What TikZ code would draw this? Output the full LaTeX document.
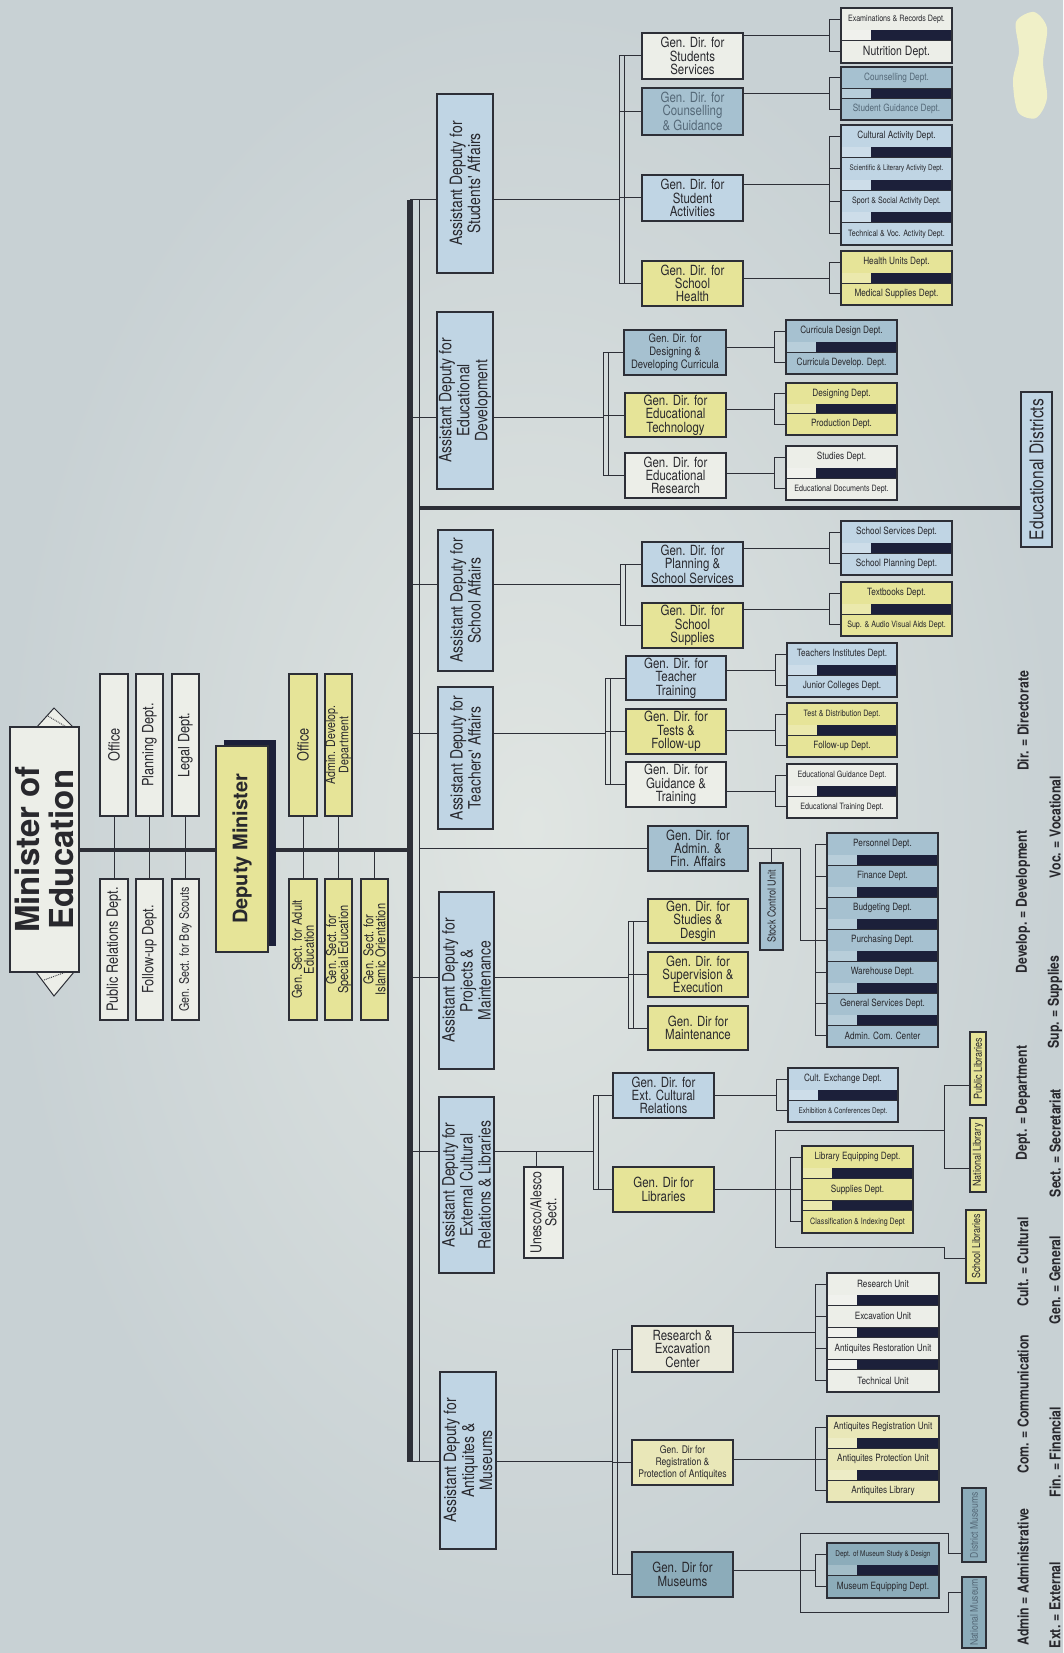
\documentclass[tikz,border=0pt]{standalone}
\usepackage{fontspec}
\setmainfont{TeX Gyre Heros}
\newfontfamily\cn[FakeStretch=0.82]{TeX Gyre Heros}
\usetikzlibrary{calc}
\definecolor{bgin}{RGB}{224,229,226}
\definecolor{bgout}{RGB}{200,209,212}
\definecolor{linec}{RGB}{45,47,55}
\definecolor{txt}{RGB}{40,40,45}
\definecolor{fade}{RGB}{85,105,120}
\definecolor{wbox}{RGB}{236,238,232}
\definecolor{lblue}{RGB}{192,213,228}
\definecolor{bgrey}{RGB}{166,193,208}
\definecolor{mblue}{RGB}{140,172,186}
\definecolor{yel}{RGB}{230,228,152}
\definecolor{lyel}{RGB}{233,231,184}
\definecolor{cream}{RGB}{234,234,218}
\definecolor{navy}{RGB}{28,32,58}
\definecolor{blob}{RGB}{240,240,200}
\newcommand\fz[2]{\fontsize{#1}{#2}\selectfont}
\newcommand\dsm{\fz{8.7}{9}}
\newcommand\dtn{\fz{7.8}{9}}
\newcommand\dlg{\fz{12.8}{13}}
\pgfdeclarelayer{bglayer}
\pgfdeclarelayer{linelayer}
\pgfsetlayers{bglayer,linelayer,main}
\tikzset{
  ln/.style={draw=linec, line width=1pt},
  thk/.style={draw=linec, line width=4pt},
  bx/.style={draw=linec, line width=1.1pt, rectangle, inner sep=0pt, align=center, text=txt},
  gdir/.style={bx, font=\cn\fz{14}{13.3}},
  adep/.style={bx, fill=lblue, font=\cn\fz{17}{18}},
  staff/.style={bx, font=\cn\fz{15.5}{16}},
  dcell/.style={draw=linec, line width=0.6pt, rectangle, inner sep=0pt, align=center, text=txt, font=\cn\fz{10}{11}},
  legend/.style={rotate=90, inner sep=0pt, text=txt, font=\cn\bfseries\fz{15}{16}},
}
\newcommand\Bx[7][]{\node[#1,minimum width={(#4)-(#2)},minimum height={(#5)-(#3)}] (#6) at ({((#2)+(#4))/2},{((#3)+(#5))/2}) {#7};}
\newcommand\Rx[7][]{\node[rotate=90,#1,minimum width={(#5)-(#3)},minimum height={(#4)-(#2)}] (#6) at ({((#2)+(#4))/2},{((#3)+(#5))/2}) {#7};}
\newcommand\Dept[8]{%
  \pgfmathsetmacro\dch{((#5)-(#3))/((#7)+((#7)-1)*0.45)}%
  \pgfmathsetmacro\dbh{0.45*\dch}%
  \foreach \dtx [count=\di] in {#8} {%
    \pgfmathsetmacro\dya{(#3)+(\di-1)*(\dch+\dbh)}%
    \node[dcell, fill=#6, minimum width={(#4)-(#2)}, minimum height=\dch] (#1-\di) at ({((#2)+(#4))/2},{\dya+\dch/2}) {\dtx};
    \draw[ln] ({(#2)-12},{\dya+\dch/2}) -- (#1-\di.west);
    \ifnum\di<#7\relax
      \fill[#6!80!white] (#2,{\dya+\dch}) rectangle ({(#2)+30},{\dya+\dch+\dbh});
      \fill[navy] ({(#2)+30},{\dya+\dch}) rectangle (#4,{\dya+\dch+\dbh});
    \fi
  }%
  \draw[linec, line width=1.2pt] (#2,#3) rectangle (#4,#5);
  \draw[ln] ({(#2)-12},{(#3)+\dch/2}) -- ({(#2)-12},{(#5)-\dch/2});
  \coordinate (#1-br) at ({(#2)-12},{((#3)+(#5))/2});
}
\newcommand\GBr[4]{%
  \path (#1,0) coordinate (gbx) ({(#1)+5},0) coordinate (gby);
  \draw[ln] (#2.west -| gbx) -- (#3.west -| gbx);
  \draw[ln] (#2.west -| gby) -- (#3.west -| gby);
  \foreach \g in {#4} {\draw[ln] (\g.west -| gbx) -- (\g.west);}
}
\begin{document}
\begin{tikzpicture}[x=1pt,y=-1pt]
\begin{pgfonlayer}{bglayer}
\shade[inner color=bgin, outer color=bgout] (0,0) rectangle (1063,1653);
\fill[blob] plot[smooth cycle] coordinates {(1016,22) (1034,12) (1047,28) (1043,62) (1047,98) (1036,118) (1018,112) (1013,80) (1019,52)};
\end{pgfonlayer}
\useasboundingbox (0,0) rectangle (1063,1653);

% ---------- Minister ----------
\filldraw[ln, fill=wbox] (36,728) -- (54,708) -- (74,728) -- cycle;
\draw[linec, densely dotted, line width=0.9pt] (48,716) -- (68,728);
\filldraw[ln, fill=wbox] (36,972) -- (54,996) -- (74,972) -- cycle;
\draw[linec, densely dotted, line width=0.9pt] (44,980) -- (66,972);
\Rx[bx, fill=wbox, font=\bfseries\fz{33}{34}]{10}{727}{79}{972}{min}{Minister of\\Education}

% staff of minister
\Rx[staff, fill=wbox]{100}{674}{128}{816}{s1}{Office}
\Rx[staff, fill=wbox]{136}{674}{163}{816}{s2}{Planning Dept.}
\Rx[staff, fill=wbox]{172}{674}{199}{816}{s3}{Legal Dept.}
\Rx[staff, fill=wbox]{100}{879}{128}{1020}{s4}{Public Relations Dept.}
\Rx[staff, fill=wbox]{136}{879}{163}{1020}{s5}{Follow-up Dept.}
\Rx[staff, fill=wbox, font=\cn\fz{13}{14}]{172}{879}{199}{1020}{s6}{Gen. Sect. for Boy Scouts}

% deputy minister
\fill[navy] (224,740) rectangle (276,946);
\Rx[bx, fill=yel, font=\bfseries\fz{20}{22}]{216}{746}{268}{952}{dm}{Deputy Minister}
\Rx[staff, fill=yel]{289}{674}{317}{816}{ds1}{Office}
\Rx[staff, fill=yel, font=\cn\fz{13}{11.5}]{325}{674}{352}{816}{ds2}{Admin. Develop.\\Department}
\Rx[staff, fill=yel, font=\cn\fz{13.5}{12}]{289}{879}{317}{1020}{ds3}{Gen. Sect. for Adult\\Education}
\Rx[staff, fill=yel, font=\cn\fz{13.5}{12}]{325}{879}{352}{1020}{ds4}{Gen. Sect. for\\Special Education}
\Rx[staff, fill=yel, font=\cn\fz{13.5}{12}]{361}{879}{388}{1020}{ds5}{Gen. Sect. for\\Islamic Orientation}

% ---------- Assistant deputies ----------
\Rx[adep]{437}{94}{493}{273}{ad1}{Assistant Deputy for\\Students' Affairs}
\Rx[adep]{437}{312}{493}{489}{ad2}{Assistant Deputy for\\Educational\\Development}
\Rx[adep]{438}{530}{493}{671}{ad3}{Assistant Deputy for\\School Affairs}
\Rx[adep]{438}{687}{493}{829}{ad4}{Assistant Deputy for\\Teachers' Affairs}
\Rx[adep]{439}{892}{494}{1069}{ad5}{Assistant Deputy for\\Projects \&\\Maintenance}
\Rx[adep]{439}{1097}{494}{1273}{ad6}{Assistant Deputy for\\External Cultural\\Relations \& Libraries}
\Rx[adep]{440}{1372}{496}{1549}{ad7}{Assistant Deputy for\\Antiquites \&\\Museums}

% ---------- General directorates ----------
\Bx[gdir, fill=wbox]{642}{33}{743}{79}{gA1}{Gen. Dir. for\\Students\\Services}
\Bx[gdir, fill=bgrey, text=fade]{642}{88}{743}{135}{gA2}{Gen. Dir. for\\Counselling\\\& Guidance}
\Bx[gdir, fill=lblue]{642}{175}{743}{221}{gA3}{Gen. Dir. for\\Student\\Activities}
\Bx[gdir, fill=yel]{642}{261}{743}{306}{gA4}{Gen. Dir. for\\School\\Health}
\Bx[gdir, fill=bgrey, font=\cn\fz{11.6}{13.3}]{624}{330}{726}{375}{gB1}{Gen. Dir. for\\Designing \&\\Developing Curricula}
\Bx[gdir, fill=yel]{625}{393}{726}{437}{gB2}{Gen. Dir. for\\Educational\\Technology}
\Bx[gdir, fill=wbox]{625}{453}{726}{498}{gB3}{Gen. Dir. for\\Educational\\Research}
\Bx[gdir, fill=lblue]{642}{542}{743}{586}{gC1}{Gen. Dir. for\\Planning \&\\School Services}
\Bx[gdir, fill=yel]{642}{603}{743}{648}{gC2}{Gen. Dir. for\\School\\Supplies}
\Bx[gdir, fill=lblue]{626}{656}{726}{700}{gD1}{Gen. Dir. for\\Teacher\\Training}
\Bx[gdir, fill=yel]{626}{709}{726}{754}{gD2}{Gen. Dir. for\\Tests \&\\Follow-up}
\Bx[gdir, fill=wbox]{626}{762}{726}{807}{gD3}{Gen. Dir. for\\Guidance \&\\Training}
\Bx[gdir, fill=bgrey]{648}{826}{748}{871}{gAF}{Gen. Dir. for\\Admin. \&\\Fin. Affairs}
\Bx[gdir, fill=yel]{648}{899}{748}{943}{gE1}{Gen. Dir. for\\Studies \&\\Desgin}
\Bx[gdir, fill=yel]{648}{952}{748}{997}{gE2}{Gen. Dir. for\\Supervision \&\\Execution}
\Bx[gdir, fill=yel]{648}{1006}{748}{1050}{gE3}{Gen. Dir for\\Maintenance}
\Bx[gdir, fill=lblue]{613}{1073}{714}{1118}{gF1}{Gen. Dir. for\\Ext. Cultural\\Relations}
\Bx[gdir, fill=yel]{613}{1167}{714}{1212}{gF2}{Gen. Dir for\\Libraries}
\Bx[gdir, fill=cream]{632}{1326}{733}{1372}{gG1}{Research \&\\Excavation\\Center}
\Bx[gdir, fill=lyel, font=\cn\fz{10.5}{12}]{632}{1440}{733}{1485}{gG2}{Gen. Dir for\\Registration \&\\Protection of Antiquites}
\Bx[gdir, fill=mblue]{632}{1552}{733}{1597}{gG3}{Gen. Dir for\\Museums}

% ---------- Departments ----------
\Dept{dA1}{841}{8}{952}{63}{wbox}{2}{{\dsm Examinations \& Records Dept.},{\dlg Nutrition Dept.}}
\Dept{dA2}{841}{67}{952}{120}{bgrey}{2}{{\color{fade}Counselling Dept.},{\color{fade}Student Guidance Dept.}}
\Dept{dA3}{841}{125}{952}{245}{lblue}{4}{Cultural Activity Dept.,{\dtn Scientific \& Literary Activity Dept.},{\dsm Sport \& Social Activity Dept.},{\dsm Technical \& Voc. Activity Dept.}}
\Dept{dA4}{841}{251}{952}{305}{yel}{2}{Health Units Dept.,Medical Supplies Dept.}
\Dept{dB1}{786}{320}{897}{374}{bgrey}{2}{Curricula Design Dept.,Curricula Develop. Dept.}
\Dept{dB2}{786}{383}{897}{435}{yel}{2}{Designing Dept.,Production Dept.}
\Dept{dB3}{786}{446}{897}{500}{wbox}{2}{Studies Dept.,{\dsm Educational Documents Dept.}}
\Dept{dC1}{841}{521}{952}{575}{lblue}{2}{School Services Dept.,School Planning Dept.}
\Dept{dC2}{841}{582}{952}{636}{yel}{2}{Textbooks Dept.,{\dsm Sup. \& Audio Visual Aids Dept.}}
\Dept{dD1}{787}{643}{897}{697}{lblue}{2}{Teachers Institutes Dept.,Junior Colleges Dept.}
\Dept{dD2}{787}{703}{897}{757}{yel}{2}{{\dsm Test \& Distribution Dept.},Follow-up Dept.}
\Dept{dD3}{787}{764}{897}{818}{wbox}{2}{{\dsm Educational Guidance Dept.},{\dsm Educational Training Dept.}}
\Dept{dAF}{827}{833}{938}{1047}{bgrey}{7}{Personnel Dept.,Finance Dept.,Budgeting Dept.,Purchasing Dept.,Warehouse Dept.,General Services Dept.,Admin. Com. Center}
\Dept{dF1}{788}{1068}{898}{1122}{lblue}{2}{Cult. Exchange Dept.,{\dtn Exhibition \& Conferences Dept.}}
\Dept{dF2}{802}{1146}{913}{1233}{yel}{3}{Library Equipping Dept.,Supplies Dept.,{\dsm Classification \& Indexing Dept}}
\Dept{dG1}{827}{1273}{939}{1392}{wbox}{4}{Research Unit,Excavation Unit,Antiquites Restoration Unit,Technical Unit}
\Dept{dG2}{827}{1416}{939}{1502}{lyel}{3}{Antiquites Registration Unit,Antiquites Protection Unit,Antiquites Library}
\Dept{dG3}{827}{1543}{939}{1598}{mblue}{2}{{\dtn Dept. of Museum Study \& Design},Museum Equipping Dept.}

% ---------- Other units ----------
\Rx[bx, fill=bgrey, font=\cn\fz{11}{12}]{760}{863}{783}{950}{sc}{Stock Control Unit}
\Rx[bx, fill=wbox, font=\cn\fz{15}{15}]{524}{1167}{563}{1258}{un}{Unesco/Alesco\\Sect.}
\Rx[bx, fill=yel, font=\cn\fz{11}{12}]{970}{1032}{986}{1105}{pl}{Public Libraries}
\Rx[bx, fill=yel, font=\cn\fz{11}{12}]{970}{1118}{986}{1192}{nl}{National Library}
\Rx[bx, fill=yel, font=\cn\fz{11}{12}]{966}{1210}{986}{1283}{sl}{School Libraries}
\Rx[bx, fill=mblue, text=fade, font=\cn\fz{10.5}{12}]{962}{1488}{986}{1562}{dmu}{District Museums}
\Rx[bx, fill=mblue, text=fade, font=\cn\fz{10.5}{12}]{962}{1577}{986}{1648}{nmu}{National Museum}
\Rx[bx, fill=lblue, font=\cn\fz{19}{20}]{1021}{392}{1052}{547}{edd}{Educational Districts}

% ---------- Legend ----------
\node[legend] (lg1) at (1023,721) {Dir. = Directorate};
\node[legend] (lg2) at (1023,902) {Develop. = Development};
\node[legend] (lg3) at (1023,1103) {Dept. = Department};
\node[legend] (lg4) at (1023,1262) {Cult. = Cultural};
\node[legend] (lg5) at (1023,1404) {Com. = Communication};
\node[legend] (lg6) at (1023,1577) {Admin = Administrative};
\node[legend] (lg7) at (1055,827) {Voc. = Vocational};
\node[legend] (lg8) at (1055,1002) {Sup. = Supplies};
\node[legend] (lg9) at (1055,1143) {Sect. = Secretariat};
\node[legend] (lg10) at (1055,1280) {Gen. = General};
\node[legend] (lg11) at (1055,1452) {Fin. = Financial};
\node[legend] (lg12) at (1055,1605) {Ext. = External};

% ---------- Connectors ----------
\begin{pgfonlayer}{linelayer}
\coordinate (bus) at (410,200);
\coordinate (busb) at (410,1462);
\coordinate (tbus) at (419,200);
\coordinate (tbusb) at (419,1462);
\draw[thk] (min.south) -- (min.south -| bus);
\draw[linec, line width=6pt] (bus) -- (busb);
\draw[ln] (tbus) -- (tbusb);
\draw[ln] (gAF.west -| tbus) -- (gAF.west);
\draw[ln] (s1.west) -- (s4.east);
\draw[ln] (s2.west) -- (s5.east);
\draw[ln] (s3.west) -- (s6.east);
\draw[ln] (ds1.west) -- (ds3.east);
\draw[ln] (ds2.west) -- (ds4.east);
\draw[ln] (ds5.east) -- (ds5.east |- dm.center);
\coordinate (edl) at (420,508);
\draw[thk] (edl) -- (edl -| edd.north);
\coordinate (k1) at (619,200);
\coordinate (k2) at (603,417);
\coordinate (k3) at (620,584);
\coordinate (k4) at (605,733);
\coordinate (k5) at (628,977);
\coordinate (k6) at (593,1151);
\coordinate (k7) at (612,1461);
\foreach \a in {1,...,7} {
  \draw[ln] (bus |- k\a) -- (ad\a.north |- k\a);
  \draw[ln] (ad\a.south |- k\a) -- (k\a);
}
\GBr{619}{gA1}{gA4}{gA1,gA2,gA3,gA4}
\GBr{603}{gB1}{gB3}{gB1,gB2,gB3}
\GBr{620}{gC1}{gC2}{gC1,gC2}
\GBr{605}{gD1}{gD3}{gD1,gD2,gD3}
\GBr{628}{gE1}{gE3}{gE1,gE2,gE3}
\GBr{593}{gF1}{gF2}{gF1,gF2}
\GBr{612}{gG1}{gG3}{gG1,gG2,gG3}
\coordinate (unk) at (536,1151);
\draw[ln] (unk) -- (unk |- un.east);
\foreach \gg/\dd in {gA1/dA1,gA2/dA2,gA3/dA3,gA4/dA4,gB1/dB1,gB2/dB2,gB3/dB3,gC1/dC1,gC2/dC2,gD1/dD1,gD2/dD2,gD3/dD3,gF1/dF1,gF2/dF2,gG1/dG1,gG2/dG2,gG3/dG3} {
  \draw[ln] (\dd-br -| \gg.east) -- (\dd-br);
}
\coordinate (afk) at (800,940);
\draw[ln] (gAF.east) -| (afk) -- (dAF-br);
\draw[ln] (sc.east) -- (sc.east |- gAF.east);
\coordinate (laP) at (944,1085);
\coordinate (laN) at (944,1168);
\coordinate (laT) at (944,1130);
\coordinate (laTL) at (775,1130);
\coordinate (laBL) at (775,1247);
\coordinate (laB) at (944,1247);
\coordinate (laS) at (944,1258);
\draw[ln] (pl.north |- laP) -- (laP) -- (laN) -- (nl.north |- laN);
\draw[ln] (laT) -- (laTL) -- (laBL) -- (laB) -- (laS) -- (sl.north |- laS);
\coordinate (maT) at (800,1533);
\coordinate (maTR) at (948,1533);
\coordinate (maD) at (948,1553);
\coordinate (maB) at (800,1612);
\coordinate (maBR) at (948,1612);
\coordinate (maN) at (948,1592);
\draw[ln] (dmu.north |- maD) -- (maD) -- (maTR) -- (maT) -- (maB) -- (maBR) -- (maN) -- (nmu.north |- maN);
\end{pgfonlayer}
\end{tikzpicture}
\end{document}
